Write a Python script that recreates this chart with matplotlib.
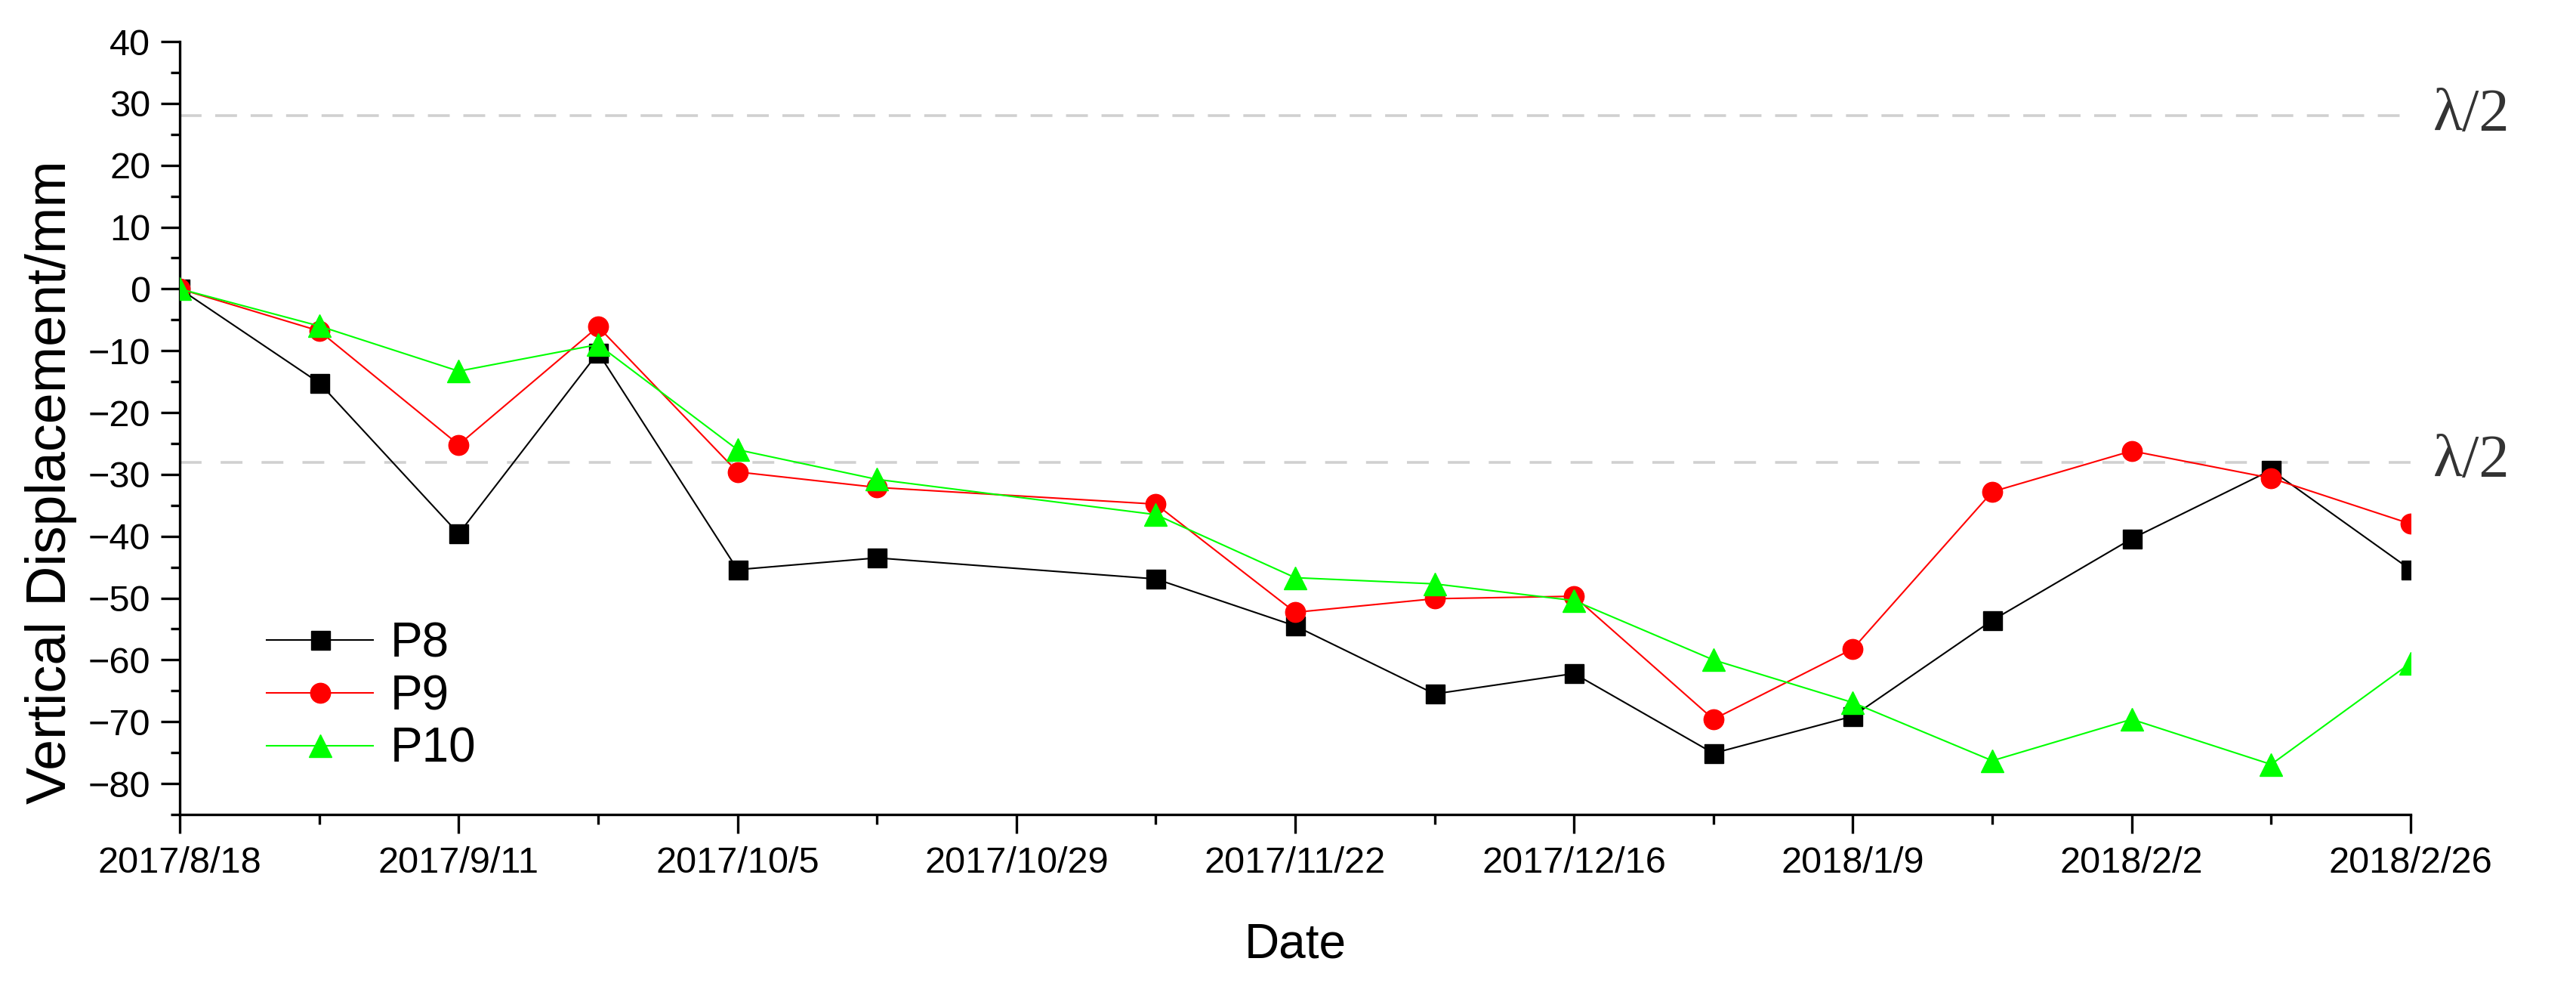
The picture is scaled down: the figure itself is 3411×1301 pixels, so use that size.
#!/usr/bin/env python3
"""Vertical displacement time series of points P8-P10 with lambda/2 limits."""

import numpy as np
import matplotlib
matplotlib.use("Agg")
import matplotlib.pyplot as plt

plt.rcParams["font.family"] = ["Liberation Sans", "DejaVu Sans"]

# acquisition dates (12-day revisit, 2017/10/29 missing)
dates = np.array([
    "2017-08-18", "2017-08-30", "2017-09-11", "2017-09-23", "2017-10-05",
    "2017-10-17", "2017-11-10", "2017-11-22", "2017-12-04", "2017-12-16",
    "2017-12-28", "2018-01-09", "2018-01-21", "2018-02-02", "2018-02-14",
    "2018-02-26",
], dtype="datetime64[D]")

p8 = [0, -15.2, -39.6, -10.3, -45.4, -43.5, -46.9, -54.5, -65.5, -62.2,
      -75.1, -69.1, -53.6, -40.4, -29.3, -45.4]
p9 = [0, -6.8, -25.2, -6.1, -29.6, -32.1, -34.8, -52.3, -50.1, -49.7,
      -69.6, -58.2, -32.8, -26.2, -30.6, -38.0]
p10 = [0, -6.0, -13.3, -9.0, -26.0, -30.8, -36.5, -46.7, -47.7, -50.4,
       -60.0, -66.9, -76.3, -69.6, -76.9, -60.5]

tick_dates = np.array([
    "2017-08-18", "2017-09-11", "2017-10-05", "2017-10-29", "2017-11-22",
    "2017-12-16", "2018-01-09", "2018-02-02", "2018-02-26",
], dtype="datetime64[D]")
tick_labels = ["2017/8/18", "2017/9/11", "2017/10/5", "2017/10/29", "2017/11/22",
               "2017/12/16", "2018/1/9", "2018/2/2", "2018/2/26"]

half_wavelength = 28.0  # mm, lambda/2 threshold

fig = plt.figure(figsize=(34.12, 13.01), dpi=100)
ax = fig.add_axes([0.0698, 0.1714, 0.8657, 0.7863])

ax.axhline(half_wavelength, color="#d0d0d0", lw=2.6, dashes=(8, 5), zorder=1)
ax.axhline(-half_wavelength, color="#d0d0d0", lw=2.6, dashes=(8, 7), zorder=1)

ax.plot(dates, p8, color="black", lw=1.5, marker="s", ms=18, label="P8", zorder=3)
ax.plot(dates, p9, color="#ff0000", lw=1.5, marker="o", ms=19, label="P9", zorder=4)
ax.plot(dates, p10, color="#00ff00", lw=1.5, marker="^", ms=21, label="P10", zorder=5)

ax.set_xlim(tick_dates[0], tick_dates[-1])
ax.set_ylim(-85, 40)

ax.set_xticks(tick_dates, labels=tick_labels)
ax.set_xticks(tick_dates[:-1] + np.timedelta64(12, "D"), minor=True)
ax.set_yticks(np.arange(-80, 41, 10))
ax.set_yticks(np.arange(-85, 41, 5), minor=True)

for side in ("top", "right"):
    ax.spines[side].set_visible(False)
for side in ("left", "bottom"):
    ax.spines[side].set_linewidth(2.4)

ax.tick_params(which="major", direction="out", length=18, width=2.4,
               labelsize=35, colors="black")
ax.tick_params(which="minor", direction="out", length=9, width=2.4)
ax.tick_params(axis="x", which="major", pad=12)
ax.tick_params(axis="y", which="major", pad=10)

ax.set_xlabel("Date", fontsize=46, labelpad=40)
ax.set_ylabel("Vertical Displacement/mm", fontsize=53)
ax.yaxis.set_label_coords(-0.046, 0.43)

lam_font = ["Liberation Serif", "DejaVu Serif"]
for yv in (half_wavelength, -half_wavelength):
    ax.text(1.01, yv, "λ/2", transform=ax.get_yaxis_transform(),
            fontsize=58, family=lam_font, color="#333333",
            ha="left", va="center", clip_on=False)

ax.legend(loc="center left", bbox_to_anchor=(0.0961, 0.291),
          bbox_transform=fig.transFigure, frameon=False, fontsize=46,
          handlelength=2.2, handletextpad=0.35, labelspacing=0.15,
          borderaxespad=0)

fig.savefig("out.png", dpi=100, facecolor="white")
